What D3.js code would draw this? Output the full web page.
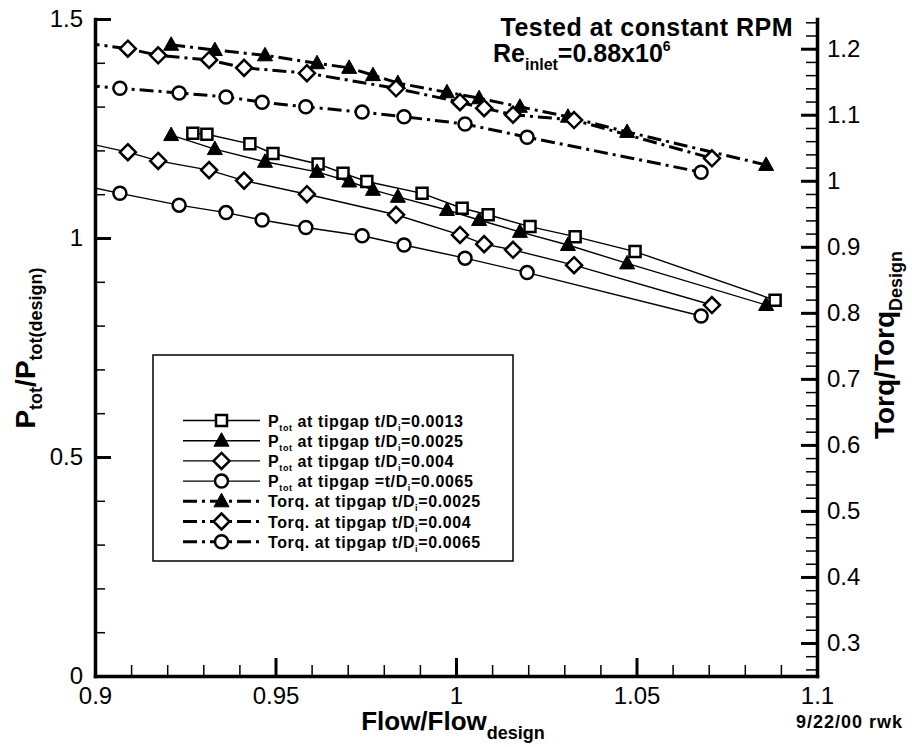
<!DOCTYPE html>
<html lang="en">
<head>
    <meta charset="UTF-8">
    <title>Ptot and Torque vs Flow</title>
    <script src="https://d3js.org/d3.v7.min.js"></script>
    <style>
        body {
            margin: 0;
            background: #fff;
            font-family: "Liberation Sans", Arial, sans-serif;
        }
    </style>
</head>
<body>
    <div id="chart"></div>

    <script>
        // flow / flow_design per tip gap
        const flow0013 = [0.9271, 0.9310, 0.9429, 0.9493, 0.9618, 0.9687, 0.9753, 0.9906, 1.0017, 1.0089, 1.0205, 1.0330, 1.0496, 1.0884];
        const flow0025 = [0.9211, 0.9332, 0.9471, 0.9615, 0.9704, 0.9770, 0.9839, 0.9975, 1.0064, 1.0177, 1.0310, 1.0474, 1.0859];
        const flow004 = [0.89, 0.9091, 0.9175, 0.9316, 0.9413, 0.9587, 0.9834, 1.0011, 1.0078, 1.0158, 1.0327, 1.0709];
        const flow0065 = [0.89, 0.9069, 0.9233, 0.9363, 0.9463, 0.9584, 0.9740, 0.9856, 1.0025, 1.0197, 1.0679];

        // Ptot / Ptot(design)  (left axis)
        const ptot0013 = [1.239, 1.237, 1.215, 1.193, 1.169, 1.148, 1.129, 1.102, 1.068, 1.053, 1.026, 1.003, 0.969, 0.858];
        const ptot0025 = [1.235, 1.203, 1.174, 1.151, 1.129, 1.110, 1.094, 1.064, 1.041, 1.014, 0.984, 0.942, 0.847];
        const ptot004 = [1.231, 1.196, 1.176, 1.155, 1.131, 1.100, 1.053, 1.007, 0.986, 0.973, 0.938, 0.847];
        const ptot0065 = [1.132, 1.102, 1.075, 1.058, 1.041, 1.024, 1.005, 0.984, 0.954, 0.921, 0.822];

        // Torq / Torq_Design  (right axis)
        const torq0025 = [1.206, 1.198, 1.190, 1.178, 1.171, 1.160, 1.148, 1.134, 1.125, 1.112, 1.097, 1.074, 1.024];
        const torq004 = [1.214, 1.200, 1.190, 1.183, 1.171, 1.163, 1.140, 1.119, 1.110, 1.100, 1.092, 1.034];
        const torq0065 = [1.148, 1.140, 1.133, 1.127, 1.119, 1.112, 1.104, 1.097, 1.086, 1.066, 1.013];

        // ticks
        const xTicks = [0.9, 0.95, 1, 1.05, 1.1];
        const yLeftTicks = [0, 0.5, 1, 1.5];
        const yRightTicks = [0.3, 0.4, 0.5, 0.6, 0.7, 0.8, 0.9, 1, 1.1, 1.2];

        // legend labels: [text, isSub]
        const legendLabels = [
            [["P", 0], ["tot", 1], [" at tipgap t/D", 0], ["i", 1], ["=0.0013", 0]],
            [["P", 0], ["tot", 1], ["  at tipgap t/D", 0], ["i", 1], ["=0.0025", 0]],
            [["P", 0], ["tot", 1], [" at tipgap t/D", 0], ["i", 1], ["=0.004", 0]],
            [["P", 0], ["tot", 1], [" at tipgap =t/D", 0], ["i", 1], ["=0.0065", 0]],
            [["Torq. at tipgap t/D", 0], ["i", 1], ["=0.0025", 0]],
            [["Torq. at tipgap t/D", 0], ["i", 1], ["=0.004", 0]],
            [["Torq. at tipgap t/D", 0], ["i", 1], ["=0.0065", 0]]
        ];

        const series = [
            { flow: flow0013, val: ptot0013, axis: "L", sym: "square", torque: false },
            { flow: flow0025, val: ptot0025, axis: "L", sym: "triangle", torque: false },
            { flow: flow004, val: ptot004, axis: "L", sym: "diamond", torque: false },
            { flow: flow0065, val: ptot0065, axis: "L", sym: "circle", torque: false },
            { flow: flow0025, val: torq0025, axis: "R", sym: "triangle", torque: true },
            { flow: flow004, val: torq004, axis: "R", sym: "diamond", torque: true },
            { flow: flow0065, val: torq0065, axis: "R", sym: "circle", torque: true }
        ];

        const width = 912, height = 747;
        const plotL = 95, plotR = 817, plotT = 19, plotB = 676;
        const font = "'Liberation Sans', Arial, sans-serif";
        const dashDot = "14,5,3,5";

        const x = d3.scaleLinear().domain([0.9, 1.1]).range([plotL, plotR]);
        const yL = d3.scaleLinear().domain([0, 1.5]).range([plotB, plotT]);
        const yR = d3.scaleLinear().domain([0.25, 1.245]).range([plotB, plotT]);

        const svg = d3.select("#chart").append("svg")
            .attr("width", width)
            .attr("height", height)
            .style("font-family", font);

        svg.append("defs").append("clipPath").attr("id", "plotclip")
            .append("rect")
            .attr("x", plotL).attr("y", plotT)
            .attr("width", plotR - plotL).attr("height", plotB - plotT);

        // marker shapes
        function markerPath(sym) {
            const p = d3.path();
            if (sym === "square") {
                p.rect(-5.5, -5.5, 11, 11);
            } else if (sym === "triangle") {
                p.moveTo(0, -8); p.lineTo(7.5, 5.5); p.lineTo(-7.5, 5.5); p.closePath();
            } else if (sym === "diamond") {
                p.moveTo(0, -8); p.lineTo(8, 0); p.lineTo(0, 8); p.lineTo(-8, 0); p.closePath();
            } else {
                p.arc(0, 0, 6.5, 0, 2 * Math.PI);
            }
            return p.toString();
        }

        function drawMarker(g, sym) {
            g.append("path")
                .attr("d", markerPath(sym))
                .attr("fill", sym === "triangle" ? "#000" : "#fff")
                .attr("stroke", "#000")
                .attr("stroke-width", sym === "triangle" ? 1 : 2.5);
        }

        // series
        const plot = svg.append("g").attr("clip-path", "url(#plotclip)");

        series.forEach(s => {
            const y = s.axis === "L" ? yL : yR;
            const pts = s.flow.map((f, i) => [f, s.val[i]]);
            const lineGen = d3.line().x(d => x(d[0])).y(d => y(d[1]));

            plot.append("path")
                .datum(pts)
                .attr("d", lineGen)
                .attr("fill", "none")
                .attr("stroke", "#000")
                .attr("stroke-width", s.torque ? 3 : 1.4)
                .attr("stroke-dasharray", s.torque ? dashDot : null);

            plot.selectAll(null)
                .data(pts)
                .join("g")
                .attr("transform", d => `translate(${x(d[0])},${y(d[1])})`)
                .each(function () { drawMarker(d3.select(this), s.sym); });
        });

        // legend
        const legend = svg.append("g");
        legend.append("rect")
            .attr("x", 153).attr("y", 355)
            .attr("width", 360).attr("height", 206)
            .attr("fill", "#fff")
            .attr("stroke", "#000")
            .attr("stroke-width", 1.5);

        series.forEach((s, i) => {
            const cy = 420.5 + i * 20.2;
            legend.append("path")
                .attr("d", `M183,${cy}H260`)
                .attr("stroke", "#000")
                .attr("stroke-width", s.torque ? 3 : 1.4)
                .attr("stroke-dasharray", s.torque ? dashDot : null);
            const mg = legend.append("g").attr("transform", `translate(221.5,${cy})`);
            drawMarker(mg, s.sym);

            const t = legend.append("text")
                .attr("x", 268).attr("y", cy + 6)
                .attr("font-size", 16)
                .attr("font-weight", "bold")
                .attr("letter-spacing", 0.6);
            let shift = 0;
            legendLabels[i].forEach(([txt, sub]) => {
                const dy = sub ? 4 - shift : -shift;
                shift = sub ? 4 : 0;
                t.append("tspan")
                    .attr("dy", dy)
                    .attr("font-size", sub ? 9 : 16)
                    .text(txt);
            });
        });

        // annotation at top right
        svg.append("text")
            .attr("x", 793).attr("y", 36)
            .attr("text-anchor", "end")
            .attr("font-size", 25)
            .attr("font-weight", "bold")
            .attr("letter-spacing", 0.5)
            .text("Tested at constant RPM");

        const reText = svg.append("text")
            .attr("x", 493).attr("y", 62)
            .attr("font-size", 25)
            .attr("font-weight", "bold");
        reText.append("tspan").text("Re");
        reText.append("tspan").attr("font-size", 16).attr("dy", 8).text("inlet");
        reText.append("tspan").attr("dy", -8).text("=0.88x10");
        reText.append("tspan").attr("font-size", 14).attr("dy", -11).text("6");

        // axis titles
        const xTitle = svg.append("text")
            .attr("x", 453).attr("y", 730)
            .attr("text-anchor", "middle")
            .attr("font-size", 26)
            .attr("font-weight", "bold");
        xTitle.append("tspan").text("Flow/Flow");
        xTitle.append("tspan").attr("font-size", 18).attr("dy", 9).text("design");

        const yTitle = svg.append("text")
            .attr("transform", "translate(35,348) rotate(-90)")
            .attr("text-anchor", "middle")
            .attr("font-size", 28)
            .attr("font-weight", "bold");
        yTitle.append("tspan").text("P");
        yTitle.append("tspan").attr("font-size", 18).attr("dy", 7).text("tot");
        yTitle.append("tspan").attr("dy", -7).text("/P");
        yTitle.append("tspan").attr("font-size", 18).attr("dy", 7).text("tot(design)");

        const yRTitle = svg.append("text")
            .attr("transform", "translate(894,345) rotate(-90)")
            .attr("text-anchor", "middle")
            .attr("font-size", 28)
            .attr("font-weight", "bold");
        yRTitle.append("tspan").text("Torq/Torq");
        yRTitle.append("tspan").attr("font-size", 18).attr("dy", 8).text("Design");

        svg.append("text")
            .attr("x", 796).attr("y", 728)
            .attr("font-size", 18)
            .attr("font-weight", "bold")
            .attr("letter-spacing", 1)
            .text("9/22/00 rwk");

        // axes last, so nothing drawn afterwards touches them
        function styleAxis(g, size) {
            g.attr("font-family", font).attr("font-size", size);
            g.select(".domain").attr("stroke", "#000").attr("stroke-width", 3.5).attr("stroke-linecap", "square");
            g.selectAll(".tick line").attr("stroke", "#000").attr("stroke-width", 3);
            g.selectAll("text").attr("fill", "#000");
        }

        function minorAxis(axis, vals, size) {
            return g => {
                g.call(axis.tickValues(vals).tickFormat("").tickSizeInner(size).tickSizeOuter(0));
                g.select(".domain").remove();
                g.selectAll(".tick line").attr("stroke", "#000").attr("stroke-width", 1.5);
            };
        }

        svg.append("g").attr("transform", `translate(0,${plotB})`)
            .call(minorAxis(d3.axisBottom(x), d3.range(0.9, 1.1001, 0.01), -11));
        svg.append("g").attr("transform", `translate(${plotL},0)`)
            .call(minorAxis(d3.axisLeft(yL), d3.range(0, 1.5001, 0.1), -10));
        svg.append("g").attr("transform", `translate(${plotR},0)`)
            .call(minorAxis(d3.axisRight(yR), d3.range(0.26, 1.245, 0.02), -11));

        svg.append("g").attr("transform", `translate(0,${plotB})`)
            .call(d3.axisBottom(x).tickValues(xTicks).tickFormat(d3.format(""))
                .tickSizeInner(-18).tickSizeOuter(0).tickPadding(11))
            .call(g => styleAxis(g, 24));
        svg.append("g").attr("transform", `translate(${plotL},0)`)
            .call(d3.axisLeft(yL).tickValues(yLeftTicks).tickFormat(d3.format(""))
                .tickSizeInner(-16).tickSizeOuter(0).tickPadding(12))
            .call(g => styleAxis(g, 24));
        svg.append("g").attr("transform", `translate(${plotR},0)`)
            .call(d3.axisRight(yR).tickValues(yRightTicks).tickFormat(d3.format(""))
                .tickSizeInner(-16).tickSizeOuter(0).tickPadding(10))
            .call(g => styleAxis(g, 24));
    </script>
</body>
</html>
